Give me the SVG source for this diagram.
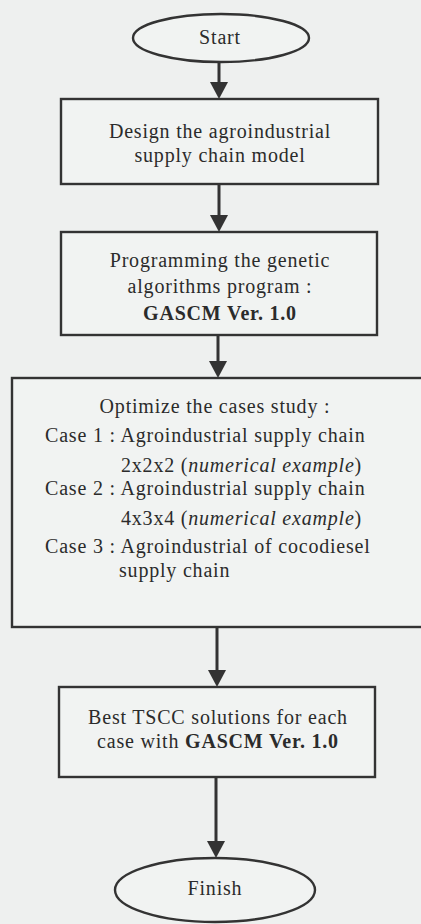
<svg xmlns="http://www.w3.org/2000/svg" width="421" height="924" viewBox="0 0 421 924">
  <style>
    .bg { fill: #eef0ef; }
    .shape { fill: #f1f3f2; stroke: #333; stroke-width: 2.4; }
    .conn { stroke: #333; stroke-width: 3; fill: none; }
    text { font-family: "Liberation Serif", "Times New Roman", serif; font-size: 20px; fill: #2b2b2b; letter-spacing: 0.8px; }
    .c { text-anchor: middle; }
    .b { font-weight: bold; }
    .i { font-style: italic; }
  </style>
  <defs>
    <marker id="ah" markerUnits="userSpaceOnUse" markerWidth="18" markerHeight="18" refX="1" refY="9" orient="auto">
      <path d="M0,0 L17,9 L0,18 z" fill="#333"/>
    </marker>
  </defs>
  <rect class="bg" x="0" y="0" width="421" height="924"/>

  <g id="connectors">
    <line class="conn" x1="219" y1="62" x2="219" y2="83" marker-end="url(#ah)"/>
    <line class="conn" x1="219" y1="184" x2="219" y2="216" marker-end="url(#ah)"/>
    <line class="conn" x1="218" y1="335" x2="218" y2="362" marker-end="url(#ah)"/>
    <line class="conn" x1="217" y1="627" x2="217" y2="671" marker-end="url(#ah)"/>
    <line class="conn" x1="216" y1="777" x2="216" y2="842" marker-end="url(#ah)"/>
  </g>

  <g id="start">
    <ellipse class="shape" cx="221" cy="38" rx="88" ry="24"/>
    <text class="c" x="220" y="44">Start</text>
  </g>

  <g id="design">
    <rect class="shape" x="61" y="99" width="317" height="85"/>
    <text class="c" x="220" y="138">Design the agroindustrial</text>
    <text class="c" x="220" y="162">supply chain model</text>
  </g>

  <g id="programming">
    <rect class="shape" x="61" y="232" width="316" height="103"/>
    <text class="c" x="220" y="267">Programming the genetic</text>
    <text class="c" x="220" y="293">algorithms program :</text>
    <text class="c b" x="220" y="320">GASCM Ver. 1.0</text>
  </g>

  <g id="optimize">
    <rect class="shape" x="12" y="378" width="412" height="249"/>
    <text class="c" x="215" y="413">Optimize the cases study :</text>
    <text x="45" y="442">Case 1 : Agroindustrial supply chain</text>
    <text x="121" y="472">2x2x2 (<tspan class="i">numerical example</tspan>)</text>
    <text x="45" y="495">Case 2 : Agroindustrial supply chain</text>
    <text x="121" y="525">4x3x4 (<tspan class="i">numerical example</tspan>)</text>
    <text x="45" y="553">Case 3 : Agroindustrial of cocodiesel</text>
    <text x="119" y="577">supply chain</text>
  </g>

  <g id="best">
    <rect class="shape" x="59" y="687" width="316" height="90"/>
    <text class="c" x="218" y="724">Best TSCC solutions for each</text>
    <text class="c" x="218" y="748">case with <tspan class="b">GASCM Ver. 1.0</tspan></text>
  </g>

  <g id="finish">
    <ellipse class="shape" cx="215" cy="890" rx="100" ry="32"/>
    <text class="c" x="215" y="895">Finish</text>
  </g>
</svg>
